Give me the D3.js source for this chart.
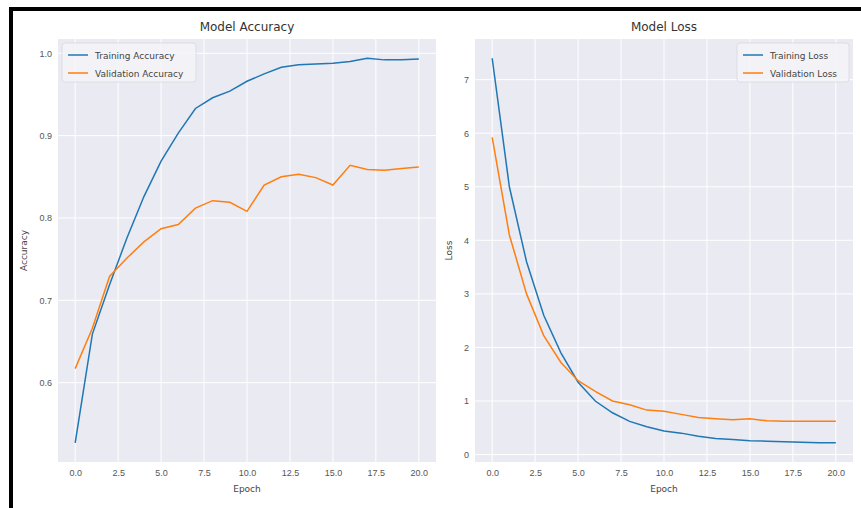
<!DOCTYPE html>
<html>
<head>
<meta charset="utf-8">
<script src="https://cdn.jsdelivr.net/npm/d3@7"></script>
<style>
  body { margin: 0; background: #fff; }
  svg { display: block; font-family: "DejaVu Sans", sans-serif; }
  .tick text { fill: #555; font-size: 9px; }
</style>
</head>
<body>
<svg id="chart" width="861" height="508"></svg>
<script>
// epochs 0..20
var epochs = d3.range(0, 21)
var trainAcc = [0.527, 0.659, 0.719, 0.775, 0.826, 0.869, 0.903, 0.933, 0.946, 0.954, 0.966,
                0.975, 0.983, 0.986, 0.987, 0.988, 0.990, 0.994, 0.992, 0.992, 0.993]
var valAcc = [0.617, 0.666, 0.729, 0.751, 0.771, 0.787, 0.792, 0.812, 0.821, 0.819, 0.808,
              0.840, 0.850, 0.853, 0.849, 0.840, 0.864, 0.859, 0.858, 0.860, 0.862]
var trainLoss = [7.40, 5.00, 3.60, 2.60, 1.90, 1.35, 1.00, 0.78, 0.62, 0.52, 0.44,
                 0.40, 0.34, 0.30, 0.28, 0.26, 0.25, 0.24, 0.23, 0.22, 0.22]
var valLoss = [5.92, 4.10, 3.00, 2.22, 1.72, 1.38, 1.18, 1.00, 0.93, 0.83, 0.81,
               0.75, 0.69, 0.67, 0.65, 0.67, 0.63, 0.62, 0.62, 0.62, 0.62]
var xTicks = [0, 2.5, 5, 7.5, 10, 12.5, 15, 17.5, 20]
var accTicks = [0.6, 0.7, 0.8, 0.9, 1.0]
var lossTicks = [0, 1, 2, 3, 4, 5, 6, 7]

var blue = '#1f77b4'
var orange = '#ff7f0e'
var svg = d3.select('#chart')

function pad(ext) {
  var p = (ext[1] - ext[0]) * 0.05
  return [ext[0] - p, ext[1] + p]
}

function drawPanel(opt) {
  var x = d3.scaleLinear().domain(pad([0, 20])).range([opt.left, opt.right])
  var yExt = d3.extent(opt.series[0].values.concat(opt.series[1].values))
  var y = d3.scaleLinear().domain(pad(yExt)).range([opt.bottom, opt.top])
  var w = opt.right - opt.left, h = opt.bottom - opt.top

  var g = svg.append('g')
  g.append('rect')
    .attr('x', opt.left).attr('y', opt.top)
    .attr('width', w).attr('height', h)
    .attr('fill', '#eaeaf2')

  // grid
  g.append('g').selectAll('line').data(xTicks).enter().append('line')
    .attr('x1', function(d){ return x(d) }).attr('x2', function(d){ return x(d) })
    .attr('y1', opt.top).attr('y2', opt.bottom)
    .attr('stroke', '#fff').attr('stroke-width', 1)
  g.append('g').selectAll('line').data(opt.yTicks).enter().append('line')
    .attr('y1', function(d){ return y(d) }).attr('y2', function(d){ return y(d) })
    .attr('x1', opt.left).attr('x2', opt.right)
    .attr('stroke', '#fff').attr('stroke-width', 1)

  // axes
  var xAxis = g.append('g')
    .attr('transform', 'translate(0,' + opt.bottom + ')')
    .call(d3.axisBottom(x).tickValues(xTicks).tickSize(0).tickPadding(8)
      .tickFormat(d3.format('.1f')))
  xAxis.select('.domain').remove()

  var yAxis = g.append('g')
    .attr('transform', 'translate(' + opt.left + ',0)')
    .call(d3.axisLeft(y).tickValues(opt.yTicks).tickSize(0).tickPadding(6)
      .tickFormat(opt.yFormat))
  yAxis.select('.domain').remove()

  // lines
  var line = d3.line()
    .x(function(d, i){ return x(epochs[i]) })
    .y(function(d){ return y(d) })
  opt.series.forEach(function(s){
    g.append('path')
      .datum(s.values)
      .attr('d', line)
      .attr('fill', 'none')
      .attr('stroke', s.color)
      .attr('stroke-width', 1.5)
  })

  // titles
  var cx = (opt.left + opt.right) / 2
  g.append('text').attr('x', cx).attr('y', 31)
    .attr('text-anchor', 'middle').attr('font-size', 12).attr('fill', '#333')
    .text(opt.title)
  g.append('text').attr('x', cx).attr('y', 492)
    .attr('text-anchor', 'middle').attr('font-size', 9).attr('fill', '#444')
    .text('Epoch')
  g.append('text')
    .attr('transform', 'translate(' + opt.yLabelX + ',' + ((opt.top + opt.bottom) / 2) + ') rotate(-90)')
    .attr('text-anchor', 'middle').attr('font-size', 9).attr('fill', '#444')
    .text(opt.yLabel)

  // legend
  var lg = g.append('g').attr('transform', 'translate(' + opt.legend.x + ',' + opt.legend.y + ')')
  lg.append('rect')
    .attr('width', opt.legend.w).attr('height', 39)
    .attr('rx', 3)
    .attr('fill', '#f4f4f8').attr('fill-opacity', 0.85)
    .attr('stroke', '#dcdce4')
  opt.series.forEach(function(s, i){
    var yy = 12 + i * 18
    lg.append('line')
      .attr('x1', 6).attr('x2', 26).attr('y1', yy).attr('y2', yy)
      .attr('stroke', s.color).attr('stroke-width', 1.5)
    lg.append('text')
      .attr('x', 33).attr('y', yy + 3.5)
      .attr('font-size', 9).attr('fill', '#444')
      .text(s.name)
  })
}

drawPanel({
  left: 58, right: 436, top: 39, bottom: 462,
  title: 'Model Accuracy', yLabel: 'Accuracy', yLabelX: 27,
  yTicks: accTicks, yFormat: d3.format('.1f'),
  series: [
    { name: 'Training Accuracy', values: trainAcc, color: blue },
    { name: 'Validation Accuracy', values: valAcc, color: orange }
  ],
  legend: { x: 62, y: 43, w: 134 }
})

drawPanel({
  left: 475, right: 853, top: 39, bottom: 462,
  title: 'Model Loss', yLabel: 'Loss', yLabelX: 452,
  yTicks: lossTicks, yFormat: d3.format('d'),
  series: [
    { name: 'Training Loss', values: trainLoss, color: blue },
    { name: 'Validation Loss', values: valLoss, color: orange }
  ],
  legend: { x: 737, y: 43, w: 112 }
})

// screenshot frame
svg.append('rect').attr('x', 9).attr('y', 7).attr('width', 852).attr('height', 4).attr('fill', '#000')
svg.append('rect').attr('x', 9).attr('y', 7).attr('width', 4).attr('height', 501).attr('fill', '#000')
</script>
</body>
</html>
